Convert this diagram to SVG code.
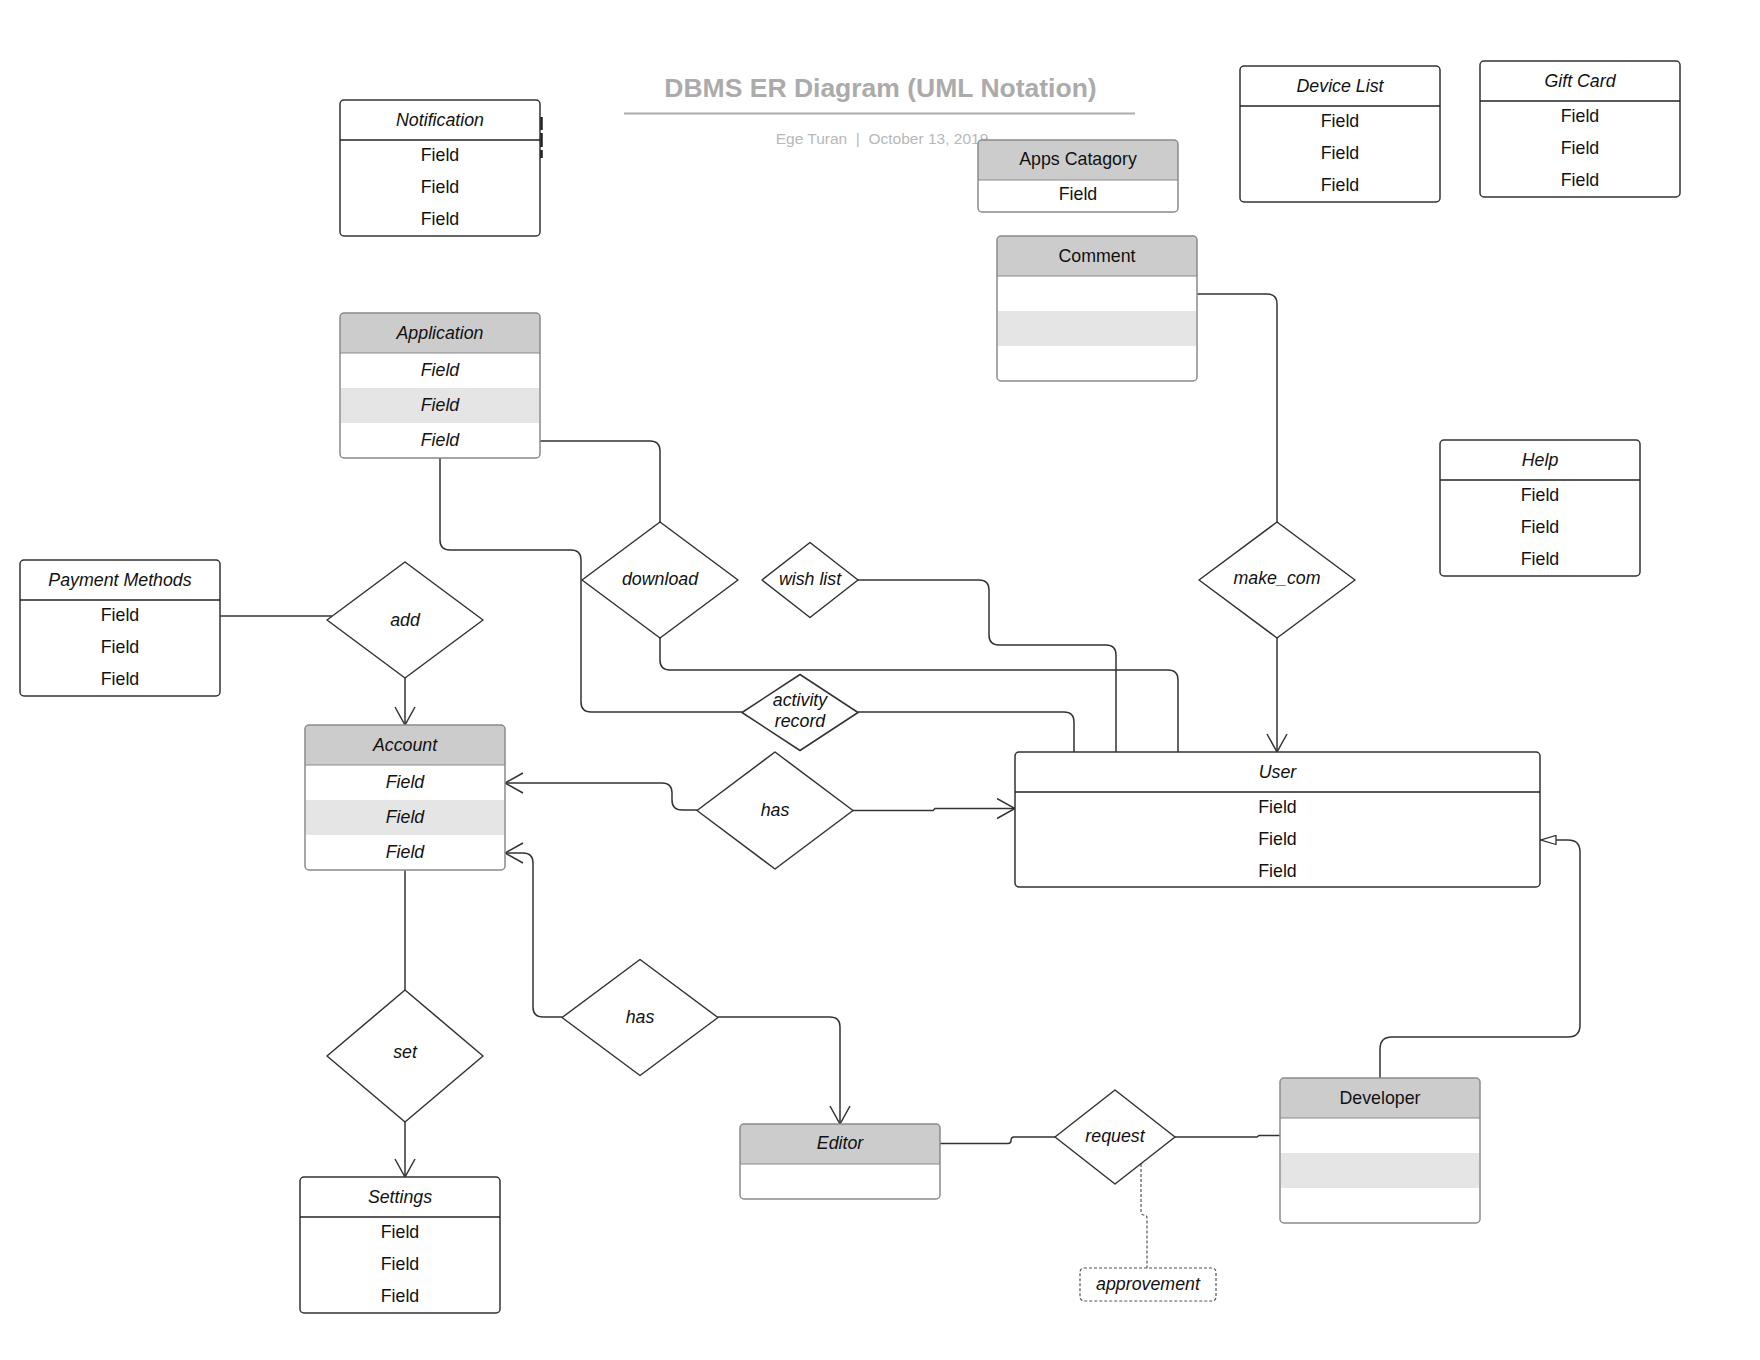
<svg xmlns="http://www.w3.org/2000/svg" width="1760" height="1360" viewBox="0 0 1760 1360">
<style>
.bg{fill:#fff}
.box{fill:none;stroke:#333;stroke-width:1.5}
.gbox{fill:none;stroke:#8a8a8a;stroke-width:1.5}
.wf{fill:#fff}
.hdr{fill:#ccc}
.alt{fill:#e5e5e5}
.sep{stroke:#222;stroke-width:1.5}
.gsep{stroke:#8a8a8a;stroke-width:1.2}
.t{font-family:'Liberation Sans',Arial,sans-serif;font-size:17.8px;fill:#111;text-anchor:middle}
.i{font-style:italic}
.conn{fill:none;stroke:#333;stroke-width:1.5}
.dash{fill:none;stroke:#555;stroke-width:1.2;stroke-dasharray:3 2}
.dia{fill:#fff;stroke:#333;stroke-width:1.5;stroke-linejoin:round}
.title{font-family:'Liberation Sans',Arial,sans-serif;font-size:26.5px;font-weight:bold;fill:#ababab;text-anchor:middle}
.sub{font-family:'Liberation Sans',Arial,sans-serif;font-size:15.5px;fill:#b8b8b8;text-anchor:middle}
</style>
<defs>
<marker id="open" markerUnits="userSpaceOnUse" viewBox="0 0 20 22" refX="19" refY="11" markerWidth="20" markerHeight="22" orient="auto">
<path d="M1,1 L19,11 L1,21" fill="none" stroke="#333" stroke-width="1.5"/>
</marker>
<marker id="tri" markerUnits="userSpaceOnUse" viewBox="0 0 17 11" refX="16" refY="5.5" markerWidth="17" markerHeight="11" orient="auto">
<path d="M1,1 L16,5.5 L1,10 Z" fill="#fff" stroke="#333" stroke-width="1.3"/>
</marker>
</defs>
<rect class="bg" x="0" y="0" width="1760" height="1360"/>

<g id="title">
<text class="title" x="880.5" y="97">DBMS ER Diagram (UML Notation)</text>
<line x1="624" y1="113.5" x2="1135" y2="113.5" stroke="#ababab" stroke-width="2"/>
<text class="sub" x="882" y="144" xml:space="preserve">Ege Turan  |  October 13, 2019</text>
</g>

<g id="connectors">
<path class="conn" d="M440,458 V540 Q440,550 450,550 H571 Q581,550 581,560 V702 Q581,712 591,712 H742"/>
<path class="conn" d="M858,712 H1064 Q1074,712 1074,722 V752"/>
<path class="conn" d="M540,441 H650 Q660,441 660,451 V522"/>
<path class="conn" d="M660,638 V660 Q660,670 670,670 H1168 Q1178,670 1178,680 V752"/>
<path class="conn" d="M858,580 H979 Q989,580 989,590 V635 Q989,645 999,645 H1106 Q1116,645 1116,655 V752"/>
<path class="conn" d="M1277,638 V752" marker-end="url(#open)"/>
<path class="conn" d="M1197,294 H1267 Q1277,294 1277,304 V522"/>
<path class="conn" d="M220,616 H332"/>
<path class="conn" d="M405,678 V725" marker-end="url(#open)"/>
<path class="conn" d="M697,810 H682 Q672,810 672,800 V793 Q672,783 662,783 H505" marker-end="url(#open)"/>
<path class="conn" d="M853,810.5 H933 L935,808.5 H1015" marker-end="url(#open)"/>
<path class="conn" d="M562,1017 H543 Q533,1017 533,1007 V863 Q533,853 523,853 H505" marker-end="url(#open)"/>
<path class="conn" d="M718,1017 H830 Q840,1017 840,1027 V1124" marker-end="url(#open)"/>
<path class="conn" d="M405,870 V990"/>
<path class="conn" d="M405,1122 V1177" marker-end="url(#open)"/>
<path class="conn" d="M940,1143.5 H1008 Q1011,1143.5 1011,1140.5 Q1011,1137 1014,1137 H1055"/>
<path class="conn" d="M1175,1137 H1257 L1259,1135.5 H1280"/>
<path class="conn" d="M1380,1078 V1049 Q1380,1037 1392,1037 H1568 Q1580,1037 1580,1025 V852 Q1580,840 1568,840 H1541" marker-end="url(#tri)"/>
<path class="dash" d="M1141,1164 V1212 Q1141,1215 1144,1215 Q1147,1215 1147,1218 V1268"/>
</g>

<g id="notification">
<rect class="wf" x="340" y="100" width="200" height="136" rx="4"/>
<rect class="box" x="340" y="100" width="200" height="136" rx="4"/>
<line class="sep" x1="340" y1="140" x2="540" y2="140"/>
<line x1="541.5" y1="117" x2="541.5" y2="158" stroke="#222" stroke-width="2.5" stroke-dasharray="13 3 14 3 8"/>
<text class="t i" x="440" y="126">Notification</text>
<text class="t" x="440" y="161">Field</text>
<text class="t" x="440" y="193">Field</text>
<text class="t" x="440" y="225">Field</text>
</g>

<g id="device-list">
<rect class="wf" x="1240" y="66" width="200" height="136" rx="4"/>
<rect class="box" x="1240" y="66" width="200" height="136" rx="4"/>
<line class="sep" x1="1240" y1="106" x2="1440" y2="106"/>
<text class="t i" x="1340" y="92">Device List</text>
<text class="t" x="1340" y="127">Field</text>
<text class="t" x="1340" y="159">Field</text>
<text class="t" x="1340" y="191">Field</text>
</g>

<g id="gift-card">
<rect class="wf" x="1480" y="61" width="200" height="136" rx="4"/>
<rect class="box" x="1480" y="61" width="200" height="136" rx="4"/>
<line class="sep" x1="1480" y1="101" x2="1680" y2="101"/>
<text class="t i" x="1580" y="87">Gift Card</text>
<text class="t" x="1580" y="122">Field</text>
<text class="t" x="1580" y="154">Field</text>
<text class="t" x="1580" y="186">Field</text>
</g>

<g id="help">
<rect class="wf" x="1440" y="440" width="200" height="136" rx="4"/>
<rect class="box" x="1440" y="440" width="200" height="136" rx="4"/>
<line class="sep" x1="1440" y1="480" x2="1640" y2="480"/>
<text class="t i" x="1540" y="466">Help</text>
<text class="t" x="1540" y="501">Field</text>
<text class="t" x="1540" y="533">Field</text>
<text class="t" x="1540" y="565">Field</text>
</g>

<g id="payment-methods">
<rect class="wf" x="20" y="560" width="200" height="136" rx="4"/>
<rect class="box" x="20" y="560" width="200" height="136" rx="4"/>
<line class="sep" x1="20" y1="600" x2="220" y2="600"/>
<text class="t i" x="120" y="586">Payment Methods</text>
<text class="t" x="120" y="621">Field</text>
<text class="t" x="120" y="653">Field</text>
<text class="t" x="120" y="685">Field</text>
</g>

<g id="settings">
<rect class="wf" x="300" y="1177" width="200" height="136" rx="4"/>
<rect class="box" x="300" y="1177" width="200" height="136" rx="4"/>
<line class="sep" x1="300" y1="1217" x2="500" y2="1217"/>
<text class="t i" x="400" y="1203">Settings</text>
<text class="t" x="400" y="1238">Field</text>
<text class="t" x="400" y="1270">Field</text>
<text class="t" x="400" y="1302">Field</text>
</g>

<g id="user">
<rect class="wf" x="1015" y="752" width="525" height="135" rx="4"/>
<rect class="box" x="1015" y="752" width="525" height="135" rx="4"/>
<line class="sep" x1="1015" y1="792" x2="1540" y2="792"/>
<text class="t i" x="1277.5" y="777.5">User</text>
<text class="t" x="1277.5" y="813">Field</text>
<text class="t" x="1277.5" y="845">Field</text>
<text class="t" x="1277.5" y="877">Field</text>
</g>

<g id="apps-catagory">
<rect class="wf" x="978" y="140" width="200" height="72" rx="4"/>
<path class="hdr" d="M978,180 V144 Q978,140 982,140 H1174 Q1178,140 1178,144 V180 Z"/>
<line class="gsep" x1="978" y1="180" x2="1178" y2="180"/>
<rect class="gbox" x="978" y="140" width="200" height="72" rx="4"/>
<text class="t" x="1078" y="164.5">Apps Catagory</text>
<text class="t" x="1078" y="200">Field</text>
</g>

<g id="comment">
<rect class="wf" x="997" y="236" width="200" height="145" rx="4"/>
<path class="hdr" d="M997,276 V240 Q997,236 1001,236 H1193 Q1197,236 1197,240 V276 Z"/>
<rect class="alt" x="997.75" y="311" width="198.5" height="35"/>
<line class="gsep" x1="997" y1="276" x2="1197" y2="276"/>
<rect class="gbox" x="997" y="236" width="200" height="145" rx="4"/>
<text class="t" x="1097" y="261.5">Comment</text>
</g>

<g id="application">
<rect class="wf" x="340" y="313" width="200" height="145" rx="4"/>
<path class="hdr" d="M340,353 V317 Q340,313 344,313 H536 Q540,313 540,317 V353 Z"/>
<rect class="alt" x="340.75" y="388" width="198.5" height="35"/>
<line class="gsep" x1="340" y1="353" x2="540" y2="353"/>
<rect class="gbox" x="340" y="313" width="200" height="145" rx="4"/>
<text class="t i" x="440" y="339">Application</text>
<text class="t i" x="440" y="376">Field</text>
<text class="t i" x="440" y="411">Field</text>
<text class="t i" x="440" y="446">Field</text>
</g>

<g id="account">
<rect class="wf" x="305" y="725" width="200" height="145" rx="4"/>
<path class="hdr" d="M305,765 V729 Q305,725 309,725 H501 Q505,725 505,729 V765 Z"/>
<rect class="alt" x="305.75" y="800" width="198.5" height="35"/>
<line class="gsep" x1="305" y1="765" x2="505" y2="765"/>
<rect class="gbox" x="305" y="725" width="200" height="145" rx="4"/>
<text class="t i" x="405" y="751">Account</text>
<text class="t i" x="405" y="788">Field</text>
<text class="t i" x="405" y="823">Field</text>
<text class="t i" x="405" y="858">Field</text>
</g>

<g id="editor">
<rect class="wf" x="740" y="1124" width="200" height="75" rx="4"/>
<path class="hdr" d="M740,1164 V1128 Q740,1124 744,1124 H936 Q940,1124 940,1128 V1164 Z"/>
<line class="gsep" x1="740" y1="1164" x2="940" y2="1164"/>
<rect class="gbox" x="740" y="1124" width="200" height="75" rx="4"/>
<text class="t i" x="840" y="1148.5">Editor</text>
</g>

<g id="developer">
<rect class="wf" x="1280" y="1078" width="200" height="145" rx="4"/>
<path class="hdr" d="M1280,1118 V1082 Q1280,1078 1284,1078 H1476 Q1480,1078 1480,1082 V1118 Z"/>
<rect class="alt" x="1280.75" y="1153" width="198.5" height="35"/>
<line class="gsep" x1="1280" y1="1118" x2="1480" y2="1118"/>
<rect class="gbox" x="1280" y="1078" width="200" height="145" rx="4"/>
<text class="t" x="1380" y="1104">Developer</text>
</g>

<g id="rel-add">
<polygon class="dia" points="327,620 405,562 483,620 405,678"/>
<text class="t i" x="405" y="625.5">add</text>
</g>
<g id="rel-download">
<polygon class="dia" points="582,580 660,522 738,580 660,638"/>
<text class="t i" x="660" y="584.5">download</text>
</g>
<g id="rel-wish-list">
<polygon class="dia" points="762,580 810,542.5 858,580 810,617.5"/>
<text class="t i" x="810" y="584.5">wish list</text>
</g>
<g id="rel-make-com">
<polygon class="dia" points="1199,580 1277,522 1355,580 1277,638"/>
<text class="t i" x="1277" y="584">make_com</text>
</g>
<g id="rel-activity-record">
<polygon class="dia" points="742,712.5 800,674.5 858,712.5 800,750.5"/>
<text class="t i" x="800" y="706">activity</text>
<text class="t i" x="800" y="727">record</text>
</g>
<g id="rel-has-user">
<polygon class="dia" points="697,810.5 775,752 853,810.5 775,869"/>
<text class="t i" x="775" y="816">has</text>
</g>
<g id="rel-has-editor">
<polygon class="dia" points="562,1017.5 640,959.5 718,1017.5 640,1075.5"/>
<text class="t i" x="640" y="1022.5">has</text>
</g>
<g id="rel-set">
<polygon class="dia" points="327,1056 405,990 483,1056 405,1122"/>
<text class="t i" x="405" y="1058">set</text>
</g>
<g id="rel-request">
<polygon class="dia" points="1055,1137 1115,1090 1175,1137 1115,1184"/>
<text class="t i" x="1115" y="1141.5">request</text>
</g>

<g id="approvement">
<rect x="1080" y="1268" width="136" height="33" rx="4" fill="#fff" stroke="#555" stroke-width="1.2" stroke-dasharray="3 2"/>
<text class="t i" x="1148" y="1289.5">approvement</text>
</g>
</svg>
